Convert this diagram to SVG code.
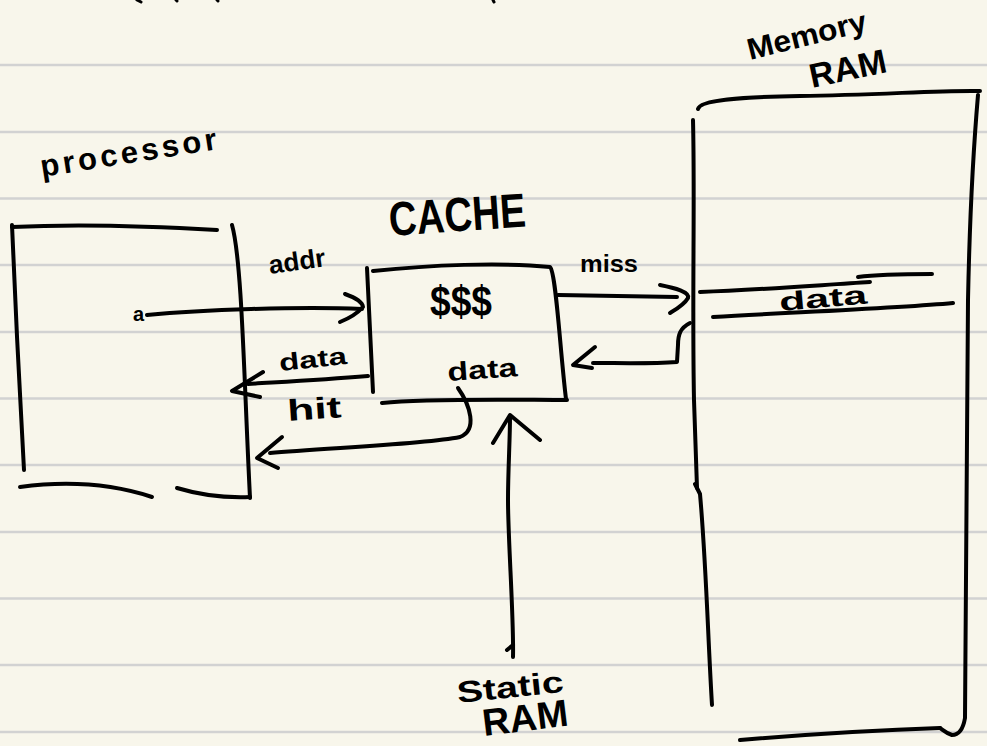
<svg xmlns="http://www.w3.org/2000/svg" width="987" height="746" viewBox="0 0 987 746">
<style>
.ink{fill:none;stroke:#000;stroke-width:4;stroke-linecap:round;stroke-linejoin:round}
.rule{stroke:#d2d2d2;stroke-width:2.5}
.hand{font-family:"Liberation Sans","DejaVu Sans",sans-serif;font-weight:bold;fill:#000}
</style>
<g id="paper">
<rect x="0" y="0" width="987" height="746" fill="#f8f6eb"/>
<line class="rule" x1="0" y1="65" x2="987" y2="65"/>
<line class="rule" x1="0" y1="132" x2="987" y2="132"/>
<line class="rule" x1="0" y1="198.5" x2="987" y2="198.5"/>
<line class="rule" x1="0" y1="265" x2="987" y2="265"/>
<line class="rule" x1="0" y1="332" x2="987" y2="332"/>
<line class="rule" x1="0" y1="398.5" x2="987" y2="398.5"/>
<line class="rule" x1="0" y1="465" x2="987" y2="465"/>
<line class="rule" x1="0" y1="532" x2="987" y2="532"/>
<line class="rule" x1="0" y1="598.5" x2="987" y2="598.5"/>
<line class="rule" x1="0" y1="665" x2="987" y2="665"/>
<line class="rule" x1="0" y1="732" x2="987" y2="732"/>
<path d="M137,0 L141,2 M176,0 L177,1 M217,0 L218,1 M493,0 L494,2" fill="none" stroke="#000" stroke-width="3" stroke-linecap="round"/>
</g>
<g id="processor">
<path class="ink" d="M12,227 C70,224 150,226 217,230"/>
<path class="ink" d="M12,225 C15,300 20,400 24,470"/>
<path class="ink" d="M232,225 C242,260 244,380 250,498"/>
<path class="ink" d="M20,487 C50,483 100,480 152,497"/>
<path class="ink" d="M177,488 C200,495 225,498 250,497"/>
<text class="hand" x="42" y="177" font-size="31" textLength="178" lengthAdjust="spacing" transform="rotate(-9 42 177)">processor</text>
</g>
<g id="cache">
<path class="ink" d="M367,268 L373,392"/>
<path class="ink" d="M373,271 C430,265 500,262 550,267 C556,272 560,350 566,399"/>
<path class="ink" d="M382,403 C430,398 520,400 567,400"/>
<text class="hand" x="390" y="236" font-size="48" textLength="137" lengthAdjust="spacingAndGlyphs" transform="rotate(-4 390 236)">CACHE</text>
<text class="hand" x="430" y="316" font-size="42" textLength="62" lengthAdjust="spacingAndGlyphs">$$$</text>
<text class="hand" x="448" y="381" font-size="26" textLength="70" lengthAdjust="spacingAndGlyphs" transform="rotate(-4 448 381)">data</text>
</g>
<g id="memory">
<path class="ink" d="M698,109 C700,100 740,97 800,96 C880,95 940,90 980,91"/>
<path class="ink" d="M693,120 C695,200 692,300 694,400 L697,488"/>
<path class="ink" d="M695,484 L700,494 C706,560 708,640 712,705"/>
<path class="ink" d="M978,95 C975,130 970,200 968,300 C966,450 967,600 965,718 C963,730 958,735 952,735 C946,733 943,730 940,728"/>
<path class="ink" d="M740,740 C800,735 880,730 940,728"/>
<path class="ink" d="M700,292 C760,290 820,285 870,282"/>
<path class="ink" d="M858,277 C880,274 910,274 932,274"/>
<path class="ink" d="M713,317 C800,312 900,308 953,303"/>
<text class="hand" x="780" y="311" font-size="26" textLength="88" lengthAdjust="spacingAndGlyphs" transform="rotate(-5 780 311)">data</text>
<text class="hand" x="750" y="60" font-size="30" textLength="122" lengthAdjust="spacingAndGlyphs" transform="rotate(-14 750 60)">Memory</text>
<text class="hand" x="812" y="88" font-size="34" textLength="78" lengthAdjust="spacingAndGlyphs" transform="rotate(-12 812 88)">RAM</text>
</g>
<g id="static-ram">
<text class="hand" x="458" y="703" font-size="30" textLength="107" lengthAdjust="spacingAndGlyphs" transform="rotate(-6 458 703)">Static</text>
<text class="hand" x="484" y="736" font-size="38" textLength="86" lengthAdjust="spacingAndGlyphs" transform="rotate(-7 484 736)">RAM</text>
</g>
<g id="connectors">
<text class="hand" x="133" y="321" font-size="20">a</text>
<path class="ink" d="M147,315 C200,310 300,306 362,309"/>
<path class="ink" d="M345,294 Q362,300 363,307 Q355,316 340,322"/>
<text class="hand" x="270" y="274" font-size="26" textLength="57" lengthAdjust="spacingAndGlyphs" transform="rotate(-8 270 274)">addr</text>
<path class="ink" d="M368,376 C320,380 280,382 248,384"/>
<path class="ink" d="M263,372 L232,391 L260,397"/>
<text class="hand" x="280" y="371" font-size="24" textLength="68" lengthAdjust="spacingAndGlyphs" transform="rotate(-6 280 371)">data</text>
<text class="hand" x="288" y="421" font-size="30" textLength="54" lengthAdjust="spacingAndGlyphs" transform="rotate(-4 288 421)">hit</text>
<path class="ink" d="M458,388 C470,405 478,430 460,437 C420,445 320,448 270,453"/>
<path class="ink" d="M282,437 L257,458 L278,468"/>
<path class="ink" d="M558,295 L677,297"/>
<path class="ink" d="M660,285 C675,288 690,292 688,298 C684,305 675,310 670,313"/>
<text class="hand" x="580" y="272" font-size="24" textLength="58" lengthAdjust="spacingAndGlyphs">miss</text>
<path class="ink" d="M690,323 C680,328 678,335 678,345 L677,362 C650,364 620,363 593,363"/>
<path class="ink" d="M595,347 L573,365 L592,368"/>
<path class="ink" d="M513,657 C514,620 508,540 508,500 C508,470 510,440 510,417"/>
<path class="ink" d="M493,443 L510,415 L540,440"/>
<path class="ink" d="M507,650 L513,645"/>
</g>
</svg>
